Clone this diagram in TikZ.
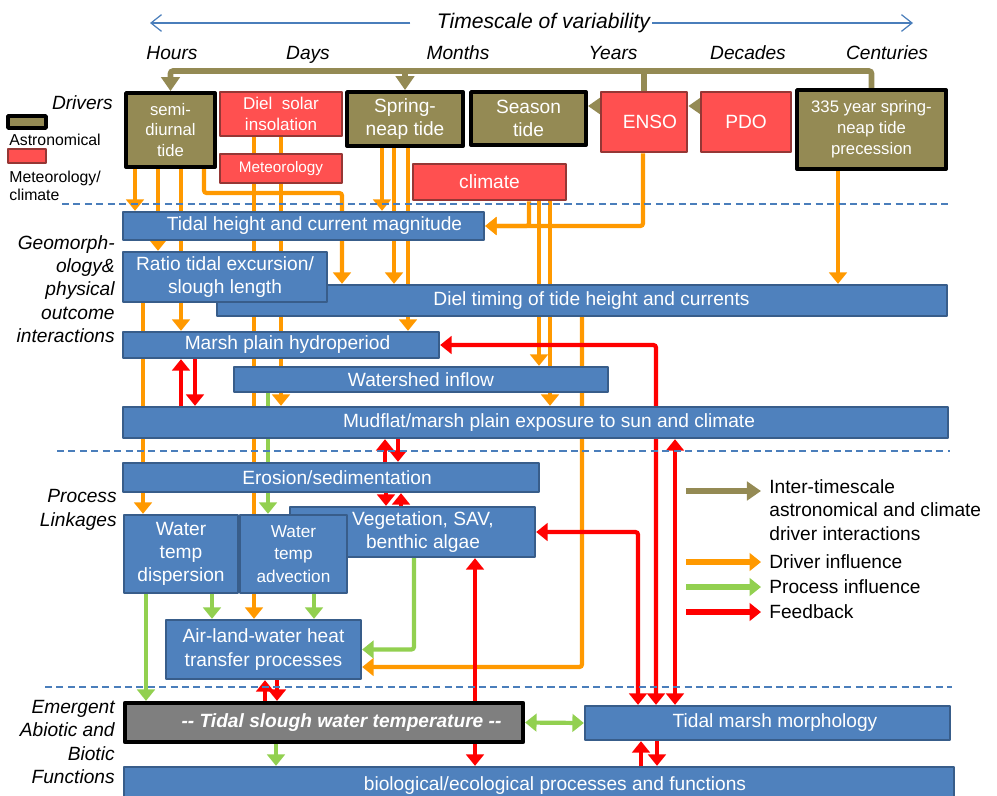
\documentclass[tikz,border=0pt]{standalone}
\usepackage{fontspec}
\setmainfont{Liberation Sans}
\usetikzlibrary{arrows.meta, backgrounds}

\definecolor{bluefill}{HTML}{4F81BD}
\definecolor{blueedge}{HTML}{385D8A}
\definecolor{redfill}{HTML}{FF5050}
\definecolor{rededge}{HTML}{953735}
\definecolor{olivefill}{HTML}{948A54}
\definecolor{orangeline}{HTML}{FF9900}
\definecolor{greenline}{HTML}{92D050}
\definecolor{redline}{HTML}{FF0000}
\definecolor{slate}{HTML}{7F7F7F}
\definecolor{scaleblue}{HTML}{4A7EBB}

\tikzset{
    every node/.style = {inner sep = 0pt, align = center,
        font = \fontsize{10.9}{13.3}\selectfont},
    wh/.style 2 args = {minimum width = #1*0.02cm, minimum height = #2*0.02cm},
    bluebox/.style = {draw = blueedge, fill = bluefill, line width = 1.3pt, text = white},
    redbox/.style = {draw = rededge, fill = redfill, line width = 1.5pt, text = white},
    astrobox/.style = {draw = black, fill = olivefill, line width = 2.2pt, text = white},
    smalltext/.style = {font = \fontsize{9.5}{11.9}\selectfont},
    rowlabel/.style = {anchor = east, align = right,
        font = \fontsize{10.9}{13.3}\selectfont\itshape},
    legtext/.style = {anchor = west, align = left},
    drive/.style = {draw = orangeline, line width = 2.4pt, rounded corners = 1.5pt, ->},
    process/.style = {draw = greenline, line width = 2.4pt, rounded corners = 1.5pt, ->},
    feedback/.style = {draw = redline, line width = 2.4pt, rounded corners = 1.5pt, ->},
    inter/.style = {draw = olivefill, line width = 3.2pt, rounded corners = 1.5pt,
        -{Triangle[width = 10.5pt, length = 8pt]}},
    divider/.style = {draw = scaleblue, line width = 0.6pt, dash pattern = on 4pt off 2.5pt},
    scalearrow/.style = {draw = scaleblue, line width = 0.7pt,
        -{Straight Barb[length = 6pt, width = 9.5pt]}}
}

\begin{document}
\begin{tikzpicture}[
        x = 0.02cm, y = -0.02cm, % one unit = one pixel of the figure
        > = {Triangle[width = 10pt, length = 6.5pt]}, % arrow head style
        line join = round
    ]

    \useasboundingbox (0,0) rectangle (997,795);

    % timescale
    \node (scale) [font = \fontsize{12}{14}\selectfont\itshape] at (543.5,23)
        {Timescale of variability};
    \coordinate (scaleL) at (150,23); \coordinate (scaleR) at (913,23);
    \draw[scalearrow, shorten <= 15pt] (scale.west) -- (scaleL);
    \draw[scalearrow, shorten <= 1pt] (scale.east) -- (scaleR);
    \foreach \lab/\xx in {Hours/172, Days/308, Months/458, Years/613,
        Decades/748, Centuries/887}
        \node (t-\lab) [anchor = base, font = \fontsize{10.9}{13.3}\selectfont\itshape]
            at (\xx,59) {\lab};

    % row labels and left key
    \node (drivers) [rowlabel] at (113,103) {Drivers};
    \node (geo) [rowlabel] at (115,289)
        {Geomorph-\\ology\& \\physical\\outcome\\interactions};
    \node (proc) [rowlabel] at (117,510) {Process\\Linkages};
    \node (emerg) [rowlabel] at (115,742)
        {Emergent\\Abiotic and\\Biotic\\Functions};
    \node (legastro) [astrobox, wh = {38}{12}, line width = 2pt] at (27,122) {};
    \node (astrolabel) [legtext, font = \fontsize{9}{10.5}\selectfont] at (9,140)
        {Astronomical};
    \node (legmet) [redbox, wh = {38}{14}] at (27,156) {};
    \node (metlabel) [legtext, font = \fontsize{9}{10.3}\selectfont] at (9,186)
        {Meteorology/\\climate};

    % separators
    \draw[divider] (62,204) -- (948,204);
    \draw[divider] (57,451) -- (950,451);
    \draw[divider] (45,687) -- (952,687);

    % drivers
    \node (semi) [astrobox, wh = {89}{74}, smalltext] at (170.5,130)
        {semi-\\diurnal\\tide};
    \node (solar) [redbox, wh = {122}{44}, font = \fontsize{9.7}{11.5}\selectfont]
        at (281,114) {Diel\ \ solar\\insolation};
    \node (meteo) [redbox, wh = {122}{29}, font = \fontsize{8.7}{10}\selectfont]
        at (281,168.5) {Meteorology};
    \node (spring) [astrobox, wh = {116}{54}] at (405,119) {Spring-\\neap tide};
    \node (season) [astrobox, wh = {115}{53}] at (528.5,118.5) {Season\\tide};
    \node (enso) [redbox, wh = {86}{60}] at (644,122) {\hspace*{0.24cm}ENSO};
    \node (pdo) [redbox, wh = {90}{60}] at (746,122) {PDO};
    \node (prec) [astrobox, wh = {149}{79}, smalltext] at (871.5,129.5)
        {335 year spring-\\neap tide\\precession};
    \node (climate) [redbox, wh = {153}{36}] at (489.5,182) {climate};

    % geomorphology and physical outcomes
    \node (tidal) [bluebox, wh = {361}{28}] at (303.5,226)
        {\hspace*{0.44cm}Tidal height and current magnitude};
    \node (diel) [bluebox, wh = {730}{31}] at (582,300.5)
        {\hspace*{0.38cm}Diel timing of tide height and currents};
    \node (ratio) [bluebox, wh = {204}{50}] at (225,277)
        {Ratio tidal excursion/\\slough length};
    \node (marsh) [bluebox, wh = {316}{26}] at (281,345)
        {\hspace*{0.26cm}Marsh plain hydroperiod};
    \node (shed) [bluebox, wh = {374}{25}] at (421,379.5) {Watershed inflow};
    \node (mud) [bluebox, wh = {825}{31}] at (535.5,422.5)
        {\hspace*{0.54cm}Mudflat/marsh plain exposure to sun and climate};

    % process linkages
    \node (eros) [bluebox, wh = {416}{29}] at (331,477.5)
        {\hspace*{0.24cm}Erosion/sedimentation};
    \node (veg) [bluebox, wh = {245}{50}] at (412.5,532)
        {\hspace*{0.42cm}Vegetation, SAV,\\\hspace*{0.42cm}benthic algae};
    \node (disp) [bluebox, wh = {114}{78}] at (181,554)
        {Water\\temp\\dispersion};
    \node (adv) [bluebox, wh = {107}{78}, font = \fontsize{9.8}{13}\selectfont]
        at (293.5,554) {Water\\temp\\advection};
    \node (air) [bluebox, wh = {195}{59}] at (263.5,649.5)
        {Air-land-water heat\\transfer processes};

    % emergent functions
    \node (slough) [draw = black, fill = slate, line width = 2.4pt, wh = {398}{39},
        text = white, font = \fontsize{10.9}{13.3}\selectfont\bfseries\itshape]
        at (324,722.5) {\hspace*{0.7cm}-{}- Tidal slough water temperature -{}-};
    \node (morph) [bluebox, wh = {365}{34}] at (767.5,723)
        {\hspace*{0.3cm}Tidal marsh morphology};
    \node (bio) [bluebox, wh = {830}{38}] at (539,786)
        {\hspace*{0.64cm}biological/ecological processes and functions};

    % right key
    \coordinate (keyInterA) at (686,491); \coordinate (keyInterB) at (761,491);
    \draw[inter, line width = 3.4pt] (keyInterA) -- (keyInterB);
    \node (keyInter) [legtext] at (769,510)
        {Inter-timescale\\astronomical and climate\\driver interactions};
    \coordinate (keyDriveA) at (686,562); \coordinate (keyDriveB) at (761,562);
    \draw[drive, line width = 3pt] (keyDriveA) -- (keyDriveB);
    \node (keyDrive) [legtext] at (769,562) {Driver influence};
    \coordinate (keyProcA) at (686,587); \coordinate (keyProcB) at (761,587);
    \draw[process, line width = 3pt] (keyProcA) -- (keyProcB);
    \node (keyProc) [legtext] at (769,587) {Process influence};
    \coordinate (keyFbA) at (686,612); \coordinate (keyFbB) at (761,612);
    \draw[feedback, line width = 3pt] (keyFbA) -- (keyFbB);
    \node (keyFb) [legtext] at (769,612) {Feedback};

    \begin{pgfonlayer}{background}
        % inter-timescale driver interactions
        \draw[inter] (prec.north) -- (prec.north |- 0,71) -| (semi.north);
        \draw[inter] (spring.north |- 0,71) -- (spring.north);
        \draw[inter, -] (enso.north) -- (enso.north |- 0,71);
        \draw[inter] (enso.west |- 0,106) -- (season.east |- 0,106);
        \draw[inter] (pdo.west |- 0,106) -- (enso.east |- 0,106);

        % driver influence
        \draw[drive] (semi.south -| 135,0) -- (tidal.north -| 135,0);
        \draw[drive] (semi.south -| 158,0) -- (ratio.north -| 158,0);
        \draw[drive] (semi.south -| 181,0) -- (marsh.north -| 181,0);
        \draw[drive] (semi.south -| 204,0) -- (204,193) -| (diel.north -| 342,0);
        \draw[drive] (solar.south -| 254,0) -- (air.north -| 254,0);
        \draw[drive] (solar.south -| 281,0) -- (mud.north -| 281,0);
        \draw[drive] (spring.south -| 382,0) -- (tidal.north -| 382,0);
        \draw[drive] (spring.south -| 394,0) -- (diel.north -| 394,0);
        \draw[drive] (spring.south -| 408,0) -- (marsh.north -| 408,0);
        \draw[drive] (enso.south -| 643,0) |- (tidal.east);
        \draw[drive] (climate.south -| 529,0) |- (tidal.east);
        \draw[drive] (climate.south -| 539,0) -- (shed.north -| 539,0);
        \draw[drive] (climate.south -| 550,0) -- (mud.north -| 550,0);
        \draw[drive] (prec.south -| 838,0) -- (diel.north -| 838,0);
        \draw[drive] (ratio.south -| 143,0) -- (disp.north -| 143,0);
        \draw[drive] (diel.south -| 582,0) |- (air.east |- 0,667);

        % process influence
        \draw[process] (shed.south -| 268,0) -- (adv.north -| 268,0);
        \draw[process] (disp.south -| 212,0) -- (air.north -| 212,0);
        \draw[process] (adv.south -| 314,0) -- (air.north -| 314,0);
        \draw[process] (disp.south -| 146,0) -- (slough.north -| 146,0);
        \draw[process] (veg.south -| 414,0) |- (air.east);
        \draw[process, <->] (slough.east) -- (morph.west);
        \draw[process] (slough.south -| 276,0) -- (bio.north -| 276,0);

        % feedback
        \draw[feedback] (mud.north -| 181,0) -- (marsh.south -| 181,0);
        \draw[feedback] (marsh.south -| 195,0) -- (mud.north -| 195,0);
        \draw[feedback] (eros.north -| 385,0) -- (mud.south -| 385,0);
        \draw[feedback] (mud.south -| 398,0) -- (eros.north -| 398,0);
        \draw[feedback] (eros.south -| 386,0) -- (veg.north -| 386,0);
        \draw[feedback] (veg.north -| 401,0) -- (eros.south -| 401,0);
        \draw[feedback] (slough.north -| 265,0) -- (air.south -| 265,0);
        \draw[feedback] (air.south -| 277,0) -- (slough.north -| 277,0);
        \draw[feedback, <->] (bio.north -| 475,0) -- (veg.south -| 475,0);
        \draw[feedback, <->] (morph.north -| 638,0) |- (veg.east);
        \draw[feedback, <->] (morph.north -| 656,0) |- (marsh.east);
        \draw[feedback, <->] (morph.north -| 675,0) -- (mud.south -| 675,0);
        \draw[feedback] (bio.north -| 641,0) -- (morph.south -| 641,0);
        \draw[feedback] (morph.south -| 657,0) -- (bio.north -| 657,0);
    \end{pgfonlayer}

\end{tikzpicture}
\end{document}
